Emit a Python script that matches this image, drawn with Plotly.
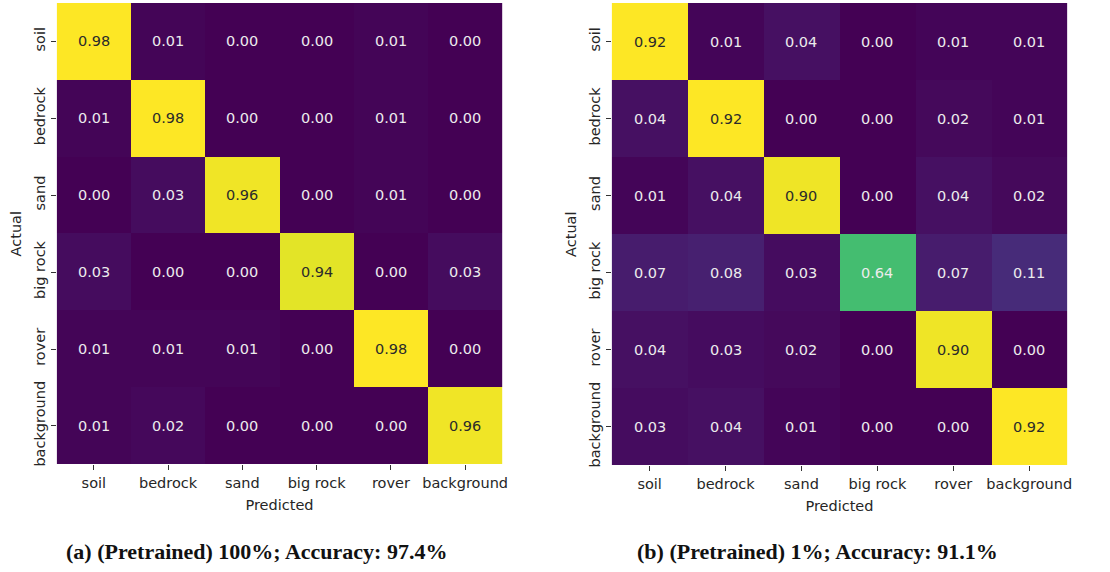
import plotly.graph_objects as go

classes = ["soil", "bedrock", "sand", "big rock", "rover", "background"]

cm_a = [
    [0.98, 0.01, 0.00, 0.00, 0.01, 0.00],
    [0.01, 0.98, 0.00, 0.00, 0.01, 0.00],
    [0.00, 0.03, 0.96, 0.00, 0.01, 0.00],
    [0.03, 0.00, 0.00, 0.94, 0.00, 0.03],
    [0.01, 0.01, 0.01, 0.00, 0.98, 0.00],
    [0.01, 0.02, 0.00, 0.00, 0.00, 0.96],
]

cm_b = [
    [0.92, 0.01, 0.04, 0.00, 0.01, 0.01],
    [0.04, 0.92, 0.00, 0.00, 0.02, 0.01],
    [0.01, 0.04, 0.90, 0.00, 0.04, 0.02],
    [0.07, 0.08, 0.03, 0.64, 0.07, 0.11],
    [0.04, 0.03, 0.02, 0.00, 0.90, 0.00],
    [0.03, 0.04, 0.01, 0.00, 0.00, 0.92],
]

captions = [
    "(a) (Pretrained) 100%; Accuracy: 97.4%",
    "(b) (Pretrained) 1%; Accuracy: 91.1%",
]
caption_x = [258, 822]

W, H = 1110, 572
# plot area pixel boxes (left, right, top, bottom)
boxes = [(57, 505, 3, 466), (615, 1073, 3, 467)]

fig = go.Figure()
annotations = []
tick_font = dict(family="DejaVu Sans", size=14.5, color="#262626")

for i, (cm, box) in enumerate(zip([cm_a, cm_b], boxes)):
    xa = "x" if i == 0 else "x2"
    ya = "y" if i == 0 else "y2"
    zmax = max(max(r) for r in cm)
    zmin = min(min(r) for r in cm)
    fig.add_trace(go.Heatmap(
        z=cm, x=classes, y=classes, xaxis=xa, yaxis=ya,
        colorscale="Viridis", zmin=zmin, zmax=zmax, showscale=False,
        xgap=0, ygap=0, hoverinfo="skip",
    ))
    for r, row in enumerate(cm):
        for c, v in enumerate(row):
            frac = (v - zmin) / (zmax - zmin)
            col = "#2b2b2b" if frac > 0.75 else "#ececec"
            annotations.append(dict(
                x=classes[c], y=classes[r], xref=xa, yref=ya,
                text=f"{v:.2f}", showarrow=False,
                font=dict(family="DejaVu Sans", size=14.5, color=col),
            ))
    l, rgt, t, b = box
    xdom = [l / W, rgt / W]
    ydom = [1 - b / H, 1 - t / H]
    key = "" if i == 0 else "2"
    fig.update_layout(**{
        f"xaxis{key}": dict(
            domain=xdom, anchor=ya, type="category",
            categoryorder="array", categoryarray=classes,
            ticks="outside", ticklen=5, tickcolor="#333", tickwidth=1,
            tickfont=tick_font, showgrid=False, zeroline=False,
            showline=False,
            title=dict(text="Predicted", font=tick_font, standoff=10),
        ),
        f"yaxis{key}": dict(
            domain=ydom, anchor=xa, type="category",
            categoryorder="array", categoryarray=classes[::-1],
            ticks="outside", ticklen=5, tickcolor="#333", tickwidth=1,
            tickfont=tick_font, tickangle=-90, showgrid=False, zeroline=False,
            showline=False,
            title=dict(text="Actual", font=tick_font, standoff=6),
        ),
    })
    annotations.append(dict(
        x=caption_x[i] / W, y=1 - 553 / H, xref="paper", yref="paper",
        text=f"<b>{captions[i]}</b>", showarrow=False,
        font=dict(family="Liberation Serif", size=22, color="#111"),
        xanchor="center", yanchor="middle",
    ))

fig.update_layout(
    width=W, height=H, margin=dict(l=0, r=0, t=0, b=0),
    paper_bgcolor="white", plot_bgcolor="white",
    annotations=annotations, showlegend=False,
)

fig.write_html(
    "out.html",
    config={"displayModeBar": False, "responsive": False},
    post_script="document.body.style.margin='0';document.body.style.overflow='hidden';",
)
